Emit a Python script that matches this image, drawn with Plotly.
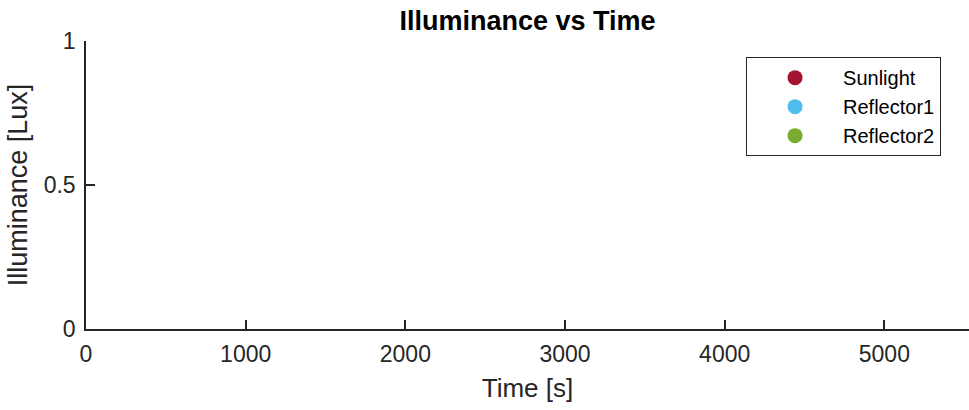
import math
import plotly.graph_objects as go

# Series recorded so far: no valid samples logged yet (NaN placeholders)
series_names = ["Sunlight", "Reflector1", "Reflector2"]
series_colors = ["#A2142F", "#4DBEEE", "#77AC30"]
time_s = {"Sunlight": [math.nan], "Reflector1": [math.nan], "Reflector2": [math.nan]}
illuminance = {"Sunlight": [math.nan], "Reflector1": [math.nan], "Reflector2": [math.nan]}

x_ticks = [0, 1000, 2000, 3000, 4000, 5000]
y_ticks = [0, 0.5, 1]

FONT = "Liberation Sans, Arial, sans-serif"
AX = "#262626"

fig = go.Figure()
for name, color in zip(series_names, series_colors):
    fig.add_trace(go.Scatter(
        x=[None if math.isnan(v) else v for v in time_s[name]],
        y=[None if math.isnan(v) else v for v in illuminance[name]],
        mode="markers", name=name,
        marker=dict(color=color, size=15),
    ))

fig.update_layout(
    width=969, height=410,
    margin=dict(l=86, r=0, t=41, b=81),
    paper_bgcolor="white", plot_bgcolor="white",
    font=dict(family=FONT, color=AX),
    title=dict(text="<b>Illuminance vs Time</b>", x=0.5, xanchor="center",
               xref="paper", y=0.951, yanchor="middle",
               font=dict(size=27, color="black")),
    legend=dict(x=0.7475, y=0.944, xanchor="left", yanchor="top",
                bordercolor=AX, borderwidth=1, bgcolor="white",
                font=dict(size=20, color="black"),
                itemwidth=86, entrywidth=193),
    showlegend=True,
)
fig.update_xaxes(
    range=[0, 5530], tickvals=x_ticks, ticktext=[str(v) for v in x_ticks],
    showgrid=False, zeroline=False, showline=True, linecolor=AX, linewidth=1.5,
    ticks="inside", ticklen=9, tickwidth=1.5, tickcolor=AX, ticklabelstandoff=4,
    tickfont=dict(size=23, color=AX),
    title=dict(text="Time [s]", font=dict(size=26, color=AX), standoff=12),
)
fig.update_yaxes(
    range=[0, 1], tickvals=y_ticks, ticktext=["0", "0.5", "1"],
    showgrid=False, zeroline=False, showline=True, linecolor=AX, linewidth=1.5,
    ticks="inside", ticklen=9, tickwidth=1.5, tickcolor=AX, ticklabelstandoff=4,
    tickfont=dict(size=23, color=AX),
    title=dict(text="Illuminance [Lux]", font=dict(size=27, color=AX), standoff=8),
)

fig.write_html("out.html")
